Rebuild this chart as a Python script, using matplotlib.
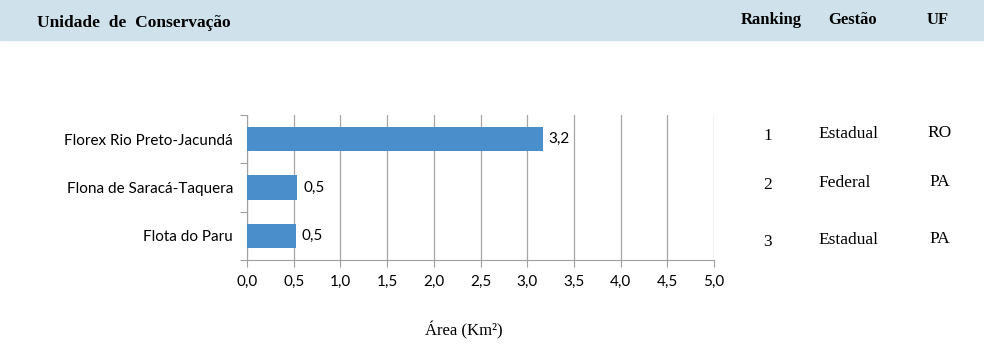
import matplotlib.pyplot as plt
from matplotlib.patches import Rectangle

unidades = ['Florex Rio Preto-Jacundá', 'Flona de Saracá-Taquera', 'Flota do Paru']
area = [3.17, 0.54, 0.52]
ranking = ['1', '2', '3']
gestao = ['Estadual', 'Federal', 'Estadual']
uf = ['RO', 'PA', 'PA']
xticks = [0.0, 0.5, 1.0, 1.5, 2.0, 2.5, 3.0, 3.5, 4.0, 4.5, 5.0]

fig = plt.figure(figsize=(9.84, 3.52), dpi=100)

# faixa do cabeçalho
fig.patches.append(Rectangle((0, 1 - 40 / 352), 1, 40 / 352, transform=fig.transFigure,
                             color='#cfe2ec', zorder=0))
serif = 'Liberation Serif'
fig.text(37 / 984, 1 - 23 / 352, 'Unidade  de  Conservação', family=serif, weight='bold',
         fontsize=12.5, va='center', ha='left')
for lab, xc in zip(['Ranking', 'Gestão', 'UF'], [771, 853, 938]):
    fig.text(xc / 984, 1 - 20 / 352, lab, family=serif, weight='bold', fontsize=12,
             va='center', ha='center')

ax = fig.add_axes([247 / 984, 1 - 260 / 352, 467 / 984, 145 / 352])
y = list(range(len(unidades)))
bars = ax.barh(y, area, height=0.5, color='#4a8ecb', zorder=3)
ax.set_ylim(len(unidades) - 0.5, -0.5)
ax.set_xlim(0, 5.0)
ax.set_xticks(xticks)
ax.set_xticklabels([f'{v:.1f}'.replace('.', ',') for v in xticks], family='Lato', fontsize=11)
ax.set_yticks([i - 0.5 for i in range(len(unidades) + 1)])
ax.set_yticklabels([])
ax.set_yticks(y, minor=True)
ax.set_yticklabels(unidades, minor=True, family='Lato', fontsize=11)
ax.tick_params(axis='y', which='minor', length=0, pad=10)
ax.tick_params(axis='y', which='major', length=5, color='#a0a0a0')
ax.tick_params(axis='x', length=5, color='#a0a0a0', pad=6)
ax.grid(axis='x', color='#a6a6a6', linewidth=0.9, zorder=0)
for s in ['top', 'right']:
    ax.spines[s].set_visible(False)
for s in ['left', 'bottom']:
    ax.spines[s].set_color('#a0a0a0')

for b, v in zip(bars, area):
    ax.text(v + 0.06, b.get_y() + b.get_height() / 2, f'{v:.1f}'.replace('.', ','),
            family='Lato', fontsize=11, va='center', ha='left')

fig.text(464 / 984, 1 - 330 / 352, 'Área (Km²)', family=serif, fontsize=12,
         va='center', ha='center')

# tabela à direita
rows_y = [136, 185, 242]
for r, g, u, yy in zip(ranking, gestao, uf, rows_y):
    fig.text(768 / 984, 1 - yy / 352, r, family=serif, fontsize=12.5, va='center', ha='center')
    fig.text(818 / 984, 1 - (yy - 2) / 352, g, family=serif, fontsize=12.5, va='center', ha='left')
    fig.text(940 / 984, 1 - (yy - 3) / 352, u, family=serif, fontsize=12.5, va='center', ha='center')

fig.savefig('out.png', dpi=100)
